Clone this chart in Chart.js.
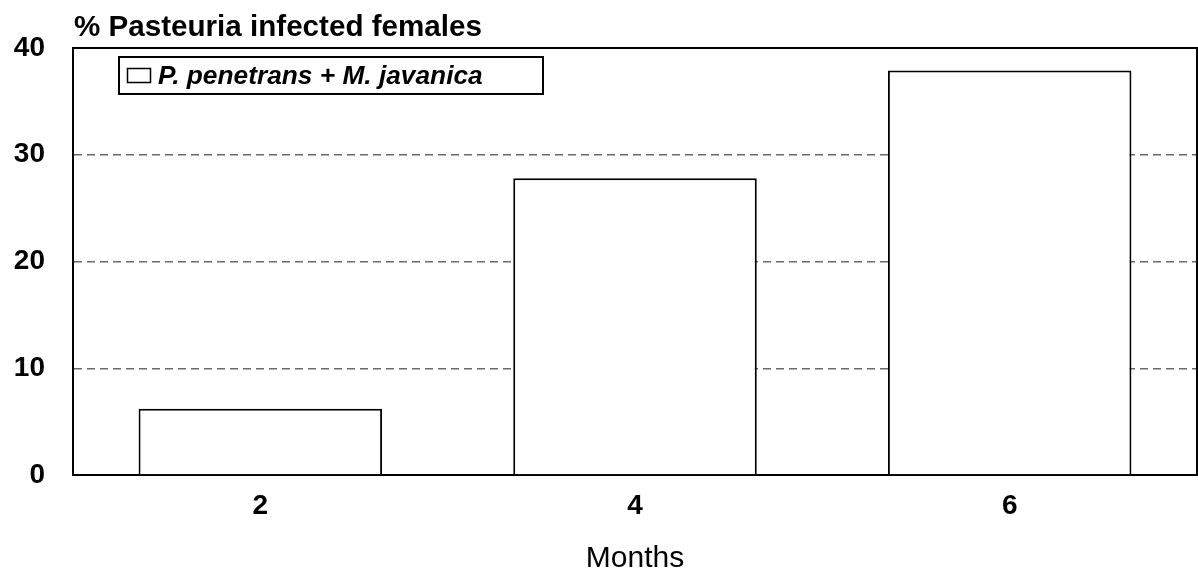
<!DOCTYPE html>
<html>
<head>
<meta charset="utf-8">
<script src="https://cdn.jsdelivr.net/npm/chart.js@4.4.1/dist/chart.umd.min.js"></script>
<style>
html,body{margin:0;padding:0;background:#fff;}
#wrap{width:1198px;height:573px;position:relative;}
</style>
</head>
<body>
<div id="wrap"><canvas id="c" width="1198" height="573"></canvas></div>
<script>
const categories = ['2', '4', '6'];
const seriesLabel = 'P. penetrans + M. javanica';
const seriesValues = [6.2, 27.8, 37.9];
const yTicks = [0, 10, 20, 30, 40];
const chartTitle = '% Pasteuria infected females';
const xTitle = 'Months';

const FONT = 'Arial, "Liberation Sans", Helvetica, sans-serif';

const extras = {
  id: 'extras',
  afterDraw(chart) {
    const ctx = chart.ctx;
    const a = chart.chartArea;
    ctx.save();
    // plot frame top and right
    ctx.strokeStyle = '#000';
    ctx.lineWidth = 2;
    ctx.beginPath();
    ctx.moveTo(a.left, a.top);
    ctx.lineTo(a.right, a.top);
    ctx.lineTo(a.right, a.bottom);
    ctx.stroke();
    // title
    ctx.fillStyle = '#000';
    ctx.font = 'bold 29.6px ' + FONT;
    ctx.textAlign = 'left';
    ctx.textBaseline = 'alphabetic';
    ctx.fillText(chartTitle, 74, 36);
    // legend
    ctx.lineWidth = 2;
    ctx.strokeRect(119, 57, 424, 37);
    ctx.lineWidth = 1.5;
    ctx.strokeRect(127.5, 68.5, 23, 14);
    ctx.font = 'italic bold 26.3px ' + FONT;
    ctx.fillText(seriesLabel, 158, 84);
    ctx.restore();
  }
};

new Chart(document.getElementById('c'), {
  type: 'bar',
  data: {
    labels: categories,
    datasets: [{
      label: seriesLabel,
      data: seriesValues,
      backgroundColor: '#ffffff',
      borderColor: '#000000',
      borderWidth: 2,
      borderSkipped: 'bottom',
      categoryPercentage: 0.65,
      barPercentage: 1.0
    }]
  },
  options: {
    responsive: false,
    animation: false,
    devicePixelRatio: 1,
    layout: { padding: { top: 48, right: 1, left: 0, bottom: 0 } },
    plugins: { legend: { display: false }, tooltip: { enabled: false }, title: { display: false } },
    scales: {
      x: {
        offset: true,
        grid: { display: false, drawTicks: false },
        border: { display: true, color: '#000', width: 2 },
        ticks: { color: '#000', font: { family: FONT, size: 28, weight: 'bold' }, padding: 14 },
        title: { display: true, text: xTitle, color: '#000', font: { family: FONT, size: 30 }, padding: { top: 20, bottom: -4 } },
        afterFit(s) { s.height = 98; }
      },
      y: {
        min: 0, max: 40,
        afterBuildTicks(s) { s.ticks = yTicks.map(v => ({ value: v })); },
        grid: {
          drawTicks: false,
          color: ctx => (ctx.tick && (ctx.tick.value === 0 || ctx.tick.value === 40)) ? 'rgba(0,0,0,0)' : '#6a6a6a',
          lineWidth: 1.5
        },
        border: { display: true, color: '#000', width: 2, dash: [8, 5] },
        ticks: { color: '#000', font: { family: FONT, size: 28, weight: 'bold' }, padding: 28 },
        afterFit(s) { s.width = 73; }
      }
    }
  },
  plugins: [extras]
});
</script>
</body>
</html>
